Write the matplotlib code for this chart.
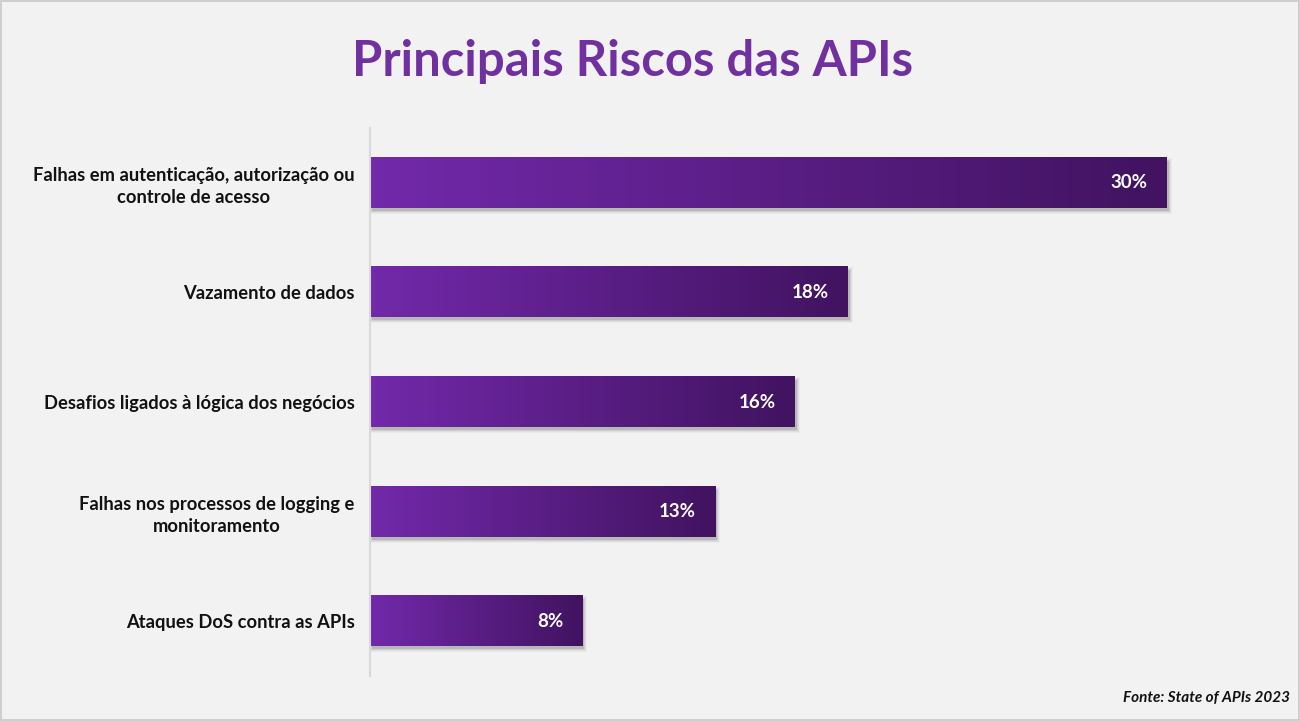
import matplotlib
matplotlib.use("Agg")
import matplotlib.pyplot as plt
import numpy as np
from matplotlib.colors import LinearSegmentedColormap
from matplotlib.patches import Rectangle

categories = [
    "Falhas em autenticação, autorização ou\ncontrole de acesso",
    "Vazamento de dados",
    "Desafios ligados à lógica dos negócios",
    "Falhas nos processos de logging e\nmonitoramento",
    "Ataques DoS contra as APIs",
]
values = [30, 18, 16, 13, 8]
value_labels = ["30%", "18%", "16%", "13%", "8%"]
title = "Principais Riscos das APIs"
source = "Fonte: State of APIs 2023"

FONT = "Lato"
BG = "#f2f2f2"
W, H = 1300, 721
fig = plt.figure(figsize=(W / 100, H / 100), dpi=100, facecolor=BG)

ax_left, ax_right, ax_top, ax_bottom = 370, 1260, 128, 676
ax = fig.add_axes([ax_left / W, 1 - ax_bottom / H, (ax_right - ax_left) / W, (ax_bottom - ax_top) / H])
ax.set_facecolor(BG)
xmax = (ax_right - ax_left) / 26.55
ax.set_xlim(0, xmax)
ax.set_ylim(len(values) - 0.5, -0.5)

cmap = LinearSegmentedColormap.from_list("g", ["#7229aa", "#411360"])
grad = np.linspace(0, 1, 256).reshape(1, -1)
bh = 0.457
px_x = xmax / (ax_right - ax_left)
px_y = len(values) / (ax_bottom - ax_top)

for i, v in enumerate(values):
    # soft shadow (layers)
    for grow, a in [(6, 0.04), (4, 0.06), (2, 0.09), (0, 0.14)]:
        ax.add_patch(Rectangle((2 * px_x - grow * px_x / 2, i - bh / 2 + 3 * px_y - grow * px_y / 2),
                               v + grow * px_x, bh + grow * px_y,
                               facecolor="#303030", edgecolor="none", alpha=a, zorder=1))
    ax.imshow(grad, cmap=cmap, aspect="auto", extent=[0, v, i + bh / 2, i - bh / 2],
              zorder=2, interpolation="bicubic")
    ax.text(v - 19 * px_x, i, value_labels[i], ha="right", va="center", color="white",
            fontsize=13.5, fontweight="bold", family=FONT, zorder=3)

ax.set_xlim(0, xmax)
ax.set_ylim(len(values) - 0.5, -0.5)
ax.set_yticks(range(len(values)))
ax.set_yticklabels(categories, fontsize=13.2, fontweight="bold", family=FONT, color="#111111",
                   linespacing=1.35)
for t in ax.get_yticklabels():
    t.set_multialignment("center")
ax.tick_params(axis="y", length=0, pad=11)
ax.set_xticks([])
for s in ["top", "right", "bottom"]:
    ax.spines[s].set_visible(False)
ax.spines["left"].set_color("#d9d9d9")
ax.spines["left"].set_linewidth(1.5)

fig.text(633 / W, 1 - 62 / H, title, ha="center", va="center", fontsize=35.3,
         fontweight="bold", color="#7030a0", family=FONT)
fig.text(1290 / W, 1 - 698 / H, source, ha="right", va="center", fontsize=11,
         fontweight="bold", style="italic", color="#111111", family=FONT)

fig.patches.append(Rectangle((0.0008, 0.0014), 0.9984, 0.997, transform=fig.transFigure,
                             fill=False, edgecolor="#c8c8c8", linewidth=1.2))

fig.savefig("out.png", dpi=100, facecolor=BG)
